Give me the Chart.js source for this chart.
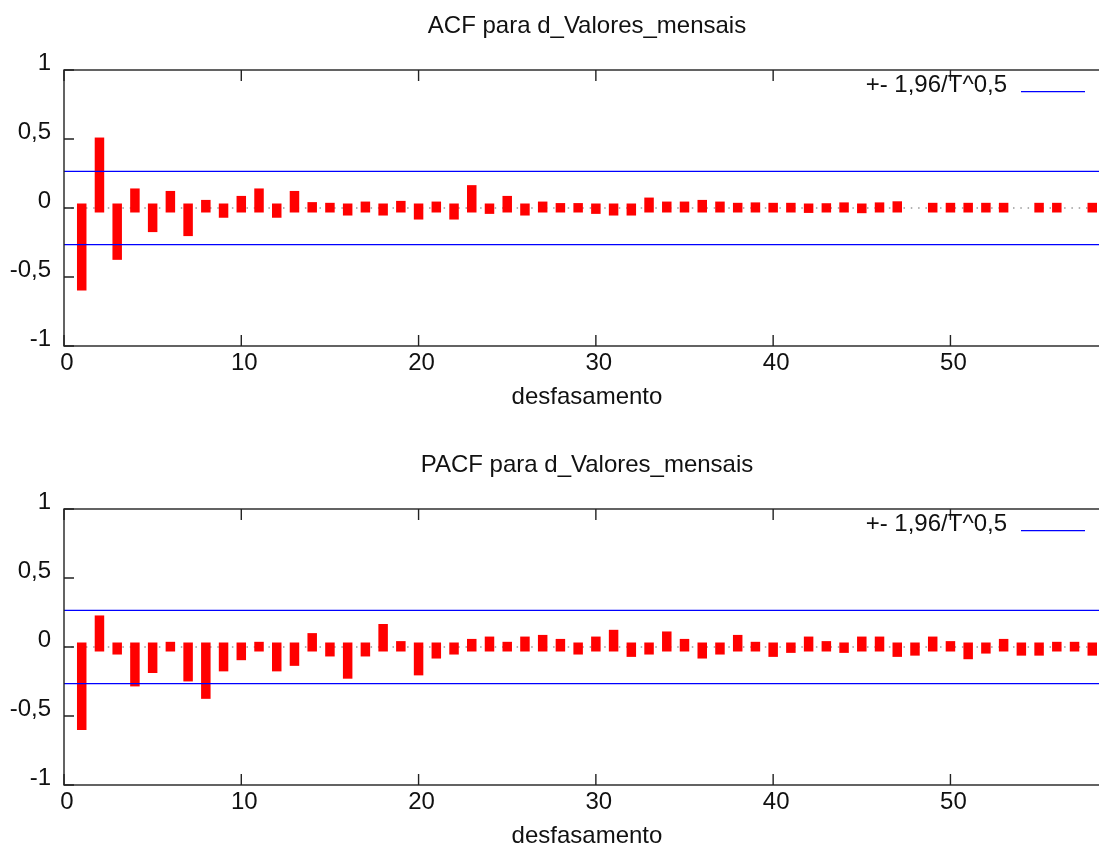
<!DOCTYPE html>
<html>
<head>
<meta charset="utf-8">
<script src="https://cdn.jsdelivr.net/npm/chart.js@4.4.1/dist/chart.umd.min.js"></script>
<style>
  html, body { margin: 0; padding: 0; background: #fff; overflow: hidden; width: 1099px; height: 845px; }
  .panel { position: absolute; left: 0; width: 1112px; height: 440px; }
</style>
</head>
<body>
<div class="panel" style="top:0"><canvas id="acfChart"></canvas></div>
<div class="panel" style="top:439px"><canvas id="pacfChart"></canvas></div>
<script>
// --- dados ---
const lags = [1, 2, 3, 4, 5, 6, 7, 8, 9, 10, 11, 12, 13, 14, 15, 16, 17, 18, 19, 20,
  21, 22, 23, 24, 25, 26, 27, 28, 29, 30, 31, 32, 33, 34, 35, 36, 37, 38, 39, 40,
  41, 42, 43, 44, 45, 46, 47, 48, 49, 50, 51, 52, 53, 54, 55, 56, 57, 58];

const acfValues = [-0.565, 0.478, -0.343, 0.109, -0.142, 0.091, -0.171, 0.026, -0.038, 0.055,
  0.109, -0.038, 0.091, 0.01, 0.005, -0.022, 0.014, -0.022, 0.019, -0.051,
  0.014, -0.051, 0.133, -0.01, 0.055, -0.022, 0.014, 0.003, 0.003, -0.01,
  -0.022, -0.022, 0.043, 0.014, 0.014, 0.026, 0.014, 0.005, 0.008, 0.005,
  0.005, -0.003, 0.002, 0.008, -0.005, 0.008, 0.016, 0, 0.005, 0.005,
  0.005, 0.005, 0.005, 0, 0.005, 0.005, 0, 0.005];

const pacfValues = [-0.569, 0.196, -0.022, -0.253, -0.156, 0.005, -0.217, -0.343, -0.144, -0.063,
  0.005, -0.144, -0.104, 0.068, -0.036, -0.197, -0.036, 0.134, 0.01, -0.173,
  -0.051, -0.022, 0.026, 0.043, 0.005, 0.043, 0.055, 0.026, -0.022, 0.043,
  0.092, -0.039, -0.022, 0.08, 0.026, -0.051, -0.022, 0.055, 0.005, -0.039,
  -0.01, 0.043, 0.01, -0.01, 0.043, 0.043, -0.039, -0.03, 0.043, 0.01,
  -0.056, -0.015, 0.026, -0.03, -0.03, 0.005, 0.005, -0.03];

const xTicks = [0, 10, 20, 30, 40, 50];
const yTicks = [-1, -0.5, 0, 0.5, 1];
const xMin = 0, xMax = 59;
const band = 0.265; // 1,96/T^0,5
const bandLabel = '+- 1,96/T^0,5';

Chart.defaults.font.family = '"Liberation Sans", Arial, sans-serif';
Chart.defaults.font.size = 24;
Chart.defaults.color = '#111';

// moldura estilo gnuplot + legenda
const frame = {
  id: 'frame',
  afterDraw(chart) {
    const { ctx, chartArea: a, scales: { x, y } } = chart;
    ctx.save();
    ctx.strokeStyle = '#222';
    ctx.lineWidth = 1.4;
    ctx.strokeRect(a.left, a.top, a.right - a.left, a.bottom - a.top);
    ctx.beginPath();
    x.ticks.forEach(t => {
      const px = x.getPixelForValue(t.value);
      ctx.moveTo(px, a.top); ctx.lineTo(px, a.top + 11);
      ctx.moveTo(px, a.bottom); ctx.lineTo(px, a.bottom - 11);
    });
    y.ticks.forEach(t => {
      const py = y.getPixelForValue(t.value);
      ctx.moveTo(a.left, py); ctx.lineTo(a.left + 10, py);
      ctx.moveTo(a.right, py); ctx.lineTo(a.right - 10, py);
    });
    ctx.stroke();

    // legenda
    const ds = chart.data.datasets.find(d => d.label);
    ctx.font = '24px "Liberation Sans", Arial, sans-serif';
    ctx.fillStyle = '#111';
    ctx.textAlign = 'right';
    ctx.textBaseline = 'alphabetic';
    ctx.fillText(ds.label, a.right - 103, a.top + 22);
    ctx.strokeStyle = ds.borderColor;
    ctx.lineWidth = 1.3;
    ctx.beginPath();
    ctx.moveTo(a.right - 89, a.top + 21.7);
    ctx.lineTo(a.right - 25, a.top + 21.7);
    ctx.stroke();
    ctx.restore();
  }
};

function buildChart(id, titleText, values) {
  const bandLine = v => [{ x: xMin, y: v }, { x: xMax, y: v }];
  return new Chart(document.getElementById(id), {
    type: 'bar',
    data: {
      datasets: [
        { type: 'line', label: bandLabel, data: bandLine(band), borderColor: '#0000ff',
          borderWidth: 1.3, pointRadius: 0, order: 0 },
        { type: 'line', data: bandLine(-band), borderColor: '#0000ff',
          borderWidth: 1.3, pointRadius: 0, order: 0 },
        { type: 'bar', data: lags.map((l, i) => ({ x: l, y: values[i] })),
          backgroundColor: '#ff0000', barThickness: 0.5,
          inflateAmount: c => (c.raw && c.raw.y !== 0) ? 4.5 : 0, order: 1 },
        { type: 'line', data: bandLine(0), borderColor: '#999', borderWidth: 1.5,
          borderDash: [1.5, 5.8], pointRadius: 0, order: 2 }
      ]
    },
    options: {
      responsive: true,
      maintainAspectRatio: false,
      animation: false,
      layout: { padding: { left: 0, right: 2, top: 0, bottom: 28 } },
      plugins: {
        legend: { display: false },
        tooltip: { enabled: false },
        title: {
          display: true, text: titleText, fullSize: false,
          padding: { top: 11.6, bottom: 29.6 },
          font: { size: 24, weight: 'normal' }, color: '#111'
        }
      },
      scales: {
        x: {
          type: 'linear', min: xMin, max: xMax, offset: false,
          grid: { display: false, drawTicks: false, offset: false },
          border: { display: false },
          ticks: { padding: 3, labelOffset: 3, autoSkip: false, maxRotation: 0 },
          afterBuildTicks: s => { s.ticks = xTicks.map(v => ({ value: v })); },
          afterFit: s => { s.height = 66; },
          title: { display: true, text: 'desfasamento', padding: { top: 0, bottom: 0 } }
        },
        y: {
          min: -1, max: 1,
          grid: { display: false, drawTicks: false },
          border: { display: false },
          ticks: { padding: 13, labelOffset: -7, callback: v => String(v).replace('.', ',') },
          afterBuildTicks: s => { s.ticks = yTicks.map(v => ({ value: v })); },
          afterFit: s => { s.width = 64; }
        }
      }
    },
    plugins: [frame]
  });
}

buildChart('acfChart', 'ACF para d_Valores_mensais', acfValues);
buildChart('pacfChart', 'PACF para d_Valores_mensais', pacfValues);
</script>
</body>
</html>
